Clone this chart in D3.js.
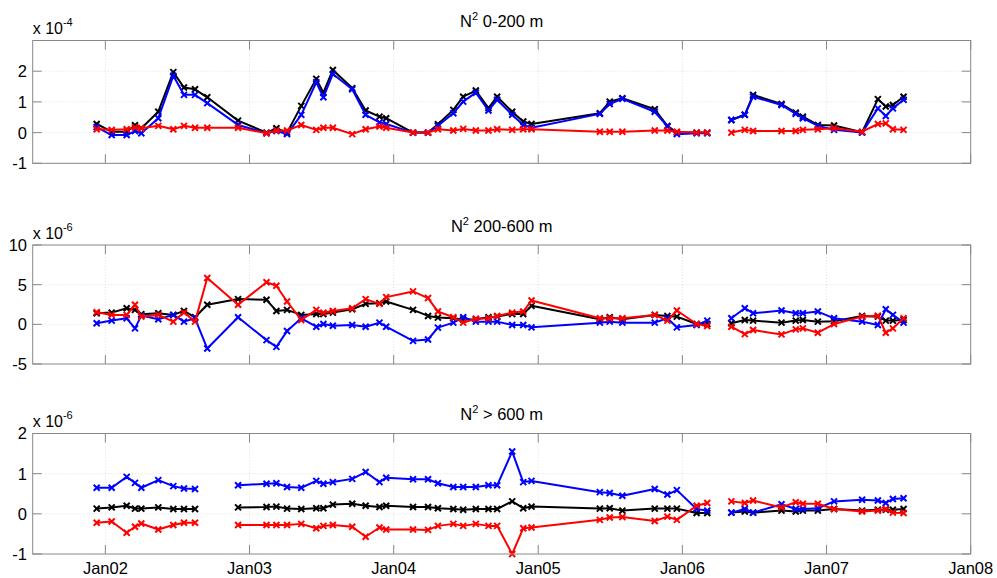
<!DOCTYPE html>
<html><head><meta charset="utf-8">
<script src="https://cdn.jsdelivr.net/npm/d3@7"></script>
<style>body{margin:0;background:#fff} svg text{font-family:"Liberation Sans",Arial,sans-serif;fill:#000}</style>
</head><body><svg id="c" width="997" height="578"></svg>
<script>
// ---------- DATA ----------
const dates = ["2001-12-10","2002-01-17","2002-02-24","2002-03-17","2002-04-02","2002-05-15","2002-06-22","2002-07-19","2002-08-16","2002-09-16",
"2002-12-03","2003-02-13","2003-03-10","2003-04-06","2003-05-12","2003-06-19","2003-07-07","2003-07-31","2003-09-18","2003-10-22",
"2003-11-26","2003-12-13","2004-02-19","2004-03-28","2004-04-22","2004-05-31","2004-06-25","2004-07-27","2004-08-28","2004-09-19",
"2004-10-27","2004-11-24","2004-12-15","2005-06-06","2005-07-01","2005-08-02","2005-10-23","2005-11-24","2005-12-18","2006-02-06",
"2006-03-05",null,"2006-05-05","2006-06-08","2006-06-29","2006-09-09","2006-10-15","2006-11-02","2006-12-10","2007-01-20",
"2007-04-01","2007-05-11","2007-05-31","2007-06-18","2007-07-15"];

// Panel 1: N^2 0-200 m (x 1e-4)
const p1Black = [0.28,0.03,0.03,0.24,0.14,0.68,1.97,1.47,1.41,1.15,0.39,0.0,0.14,0.0,0.87,1.75,1.3,2.04,1.45,0.72,0.52,0.47,0.0,0.0,0.27,0.74,1.17,1.37,0.8,1.17,0.68,0.36,0.28,0.63,1.01,1.12,0.76,0.22,0.0,0.0,0.0,null,0.41,0.58,1.23,0.93,0.65,0.52,0.25,0.23,0.01,1.09,0.85,0.9,1.17];
const p1Blue  = [0.18,-0.08,-0.08,0.05,-0.02,0.47,1.85,1.23,1.23,0.96,0.25,-0.02,0.05,-0.05,0.58,1.64,1.15,1.91,1.41,0.58,0.33,0.28,0.0,0.0,0.22,0.63,1.01,1.3,0.72,1.07,0.58,0.25,0.16,0.61,0.93,1.1,0.68,0.2,-0.05,-0.02,-0.02,null,0.41,0.58,1.17,0.9,0.61,0.47,0.22,0.09,0.0,0.79,0.54,0.79,1.07];
const p1Red   = [0.11,0.09,0.11,0.17,0.14,0.22,0.11,0.22,0.16,0.16,0.16,-0.02,0.07,0.07,0.25,0.09,0.16,0.16,-0.05,0.11,0.2,0.16,0.0,0.0,0.11,0.07,0.12,0.07,0.07,0.11,0.09,0.11,0.11,0.03,0.03,0.03,0.07,0.07,0.03,0.0,0.0,null,0.0,0.09,0.05,0.05,0.05,0.09,0.11,0.14,0.03,0.28,0.3,0.11,0.09];

// Panel 2: N^2 200-600 m (x 1e-6)
const p2Black = [1.4,1.48,2.03,1.82,1.27,1.4,1.19,1.69,0.89,2.46,3.18,3.09,1.69,1.82,1.19,1.31,1.31,1.48,1.9,2.58,2.67,2.88,1.82,1.06,0.85,0.76,0.6,0.64,0.89,0.97,1.31,1.31,2.33,0.64,0.89,0.64,1.19,1.06,0.97,0.04,0.04,null,0.13,0.55,0.47,0.21,0.47,0.55,0.34,0.4,1.06,0.97,0.47,0.47,0.55];
const p2Blue  = [0.13,0.47,0.76,-0.51,1.1,0.64,1.19,0.34,0.76,-3.05,0.89,-1.99,-2.84,-0.85,0.76,-0.3,0.04,-0.17,-0.08,-0.3,0.21,-0.3,-2.08,-1.91,-0.42,0.21,0.9,0.34,0.34,0.34,-0.08,-0.08,-0.38,0.21,0.34,0.21,0.21,0.76,-0.38,-0.08,0.47,null,0.76,2.03,1.4,1.74,1.4,1.4,1.61,0.76,0.34,-0.08,1.91,1.19,0.21];
const p2Red   = [1.53,1.19,1.19,2.46,0.97,1.19,0.34,1.48,0.34,5.85,2.46,5.3,4.87,2.88,0.55,1.82,1.48,1.69,2.03,3.18,2.58,3.43,4.15,3.31,1.61,0.89,0.21,0.7,0.76,1.06,1.48,1.61,3.0,0.76,0.76,0.76,1.19,0.47,1.74,0.04,-0.21,null,-0.3,-1.23,-0.72,-1.27,-0.64,-0.51,-1.06,0.04,0.97,1.1,-1.06,-0.51,0.76];

// Panel 3: N^2 > 600 m (x 1e-6)
const p3Black = [0.13,0.16,0.2,0.13,0.13,0.16,0.12,0.12,0.12,null,0.16,0.17,0.18,0.13,0.12,0.14,0.14,0.23,0.25,0.2,0.17,0.2,0.17,0.17,0.14,0.12,0.1,0.12,0.12,0.12,0.31,0.14,0.18,0.13,0.14,0.08,0.13,0.13,0.13,0.02,0.02,null,0.03,0.06,0.03,0.08,0.06,0.08,0.08,0.12,0.08,0.1,0.1,0.1,0.12];
const p3Blue  = [0.65,0.65,0.92,0.77,0.65,0.84,0.69,0.63,0.62,null,0.71,0.75,0.76,0.67,0.65,0.82,0.75,0.79,0.87,1.04,0.79,0.9,0.86,0.86,0.76,0.67,0.67,0.67,0.71,0.71,1.55,0.79,0.82,0.54,0.52,0.45,0.62,0.48,0.59,0.12,0.08,null,0.03,0.12,0.03,0.24,0.12,0.12,0.14,0.31,0.35,0.33,0.27,0.37,0.39];
const p3Red   = [-0.22,-0.19,-0.47,-0.32,-0.24,-0.39,-0.28,-0.22,-0.22,null,-0.28,-0.28,-0.28,-0.28,-0.25,-0.36,-0.3,-0.28,-0.32,-0.57,-0.34,-0.39,-0.39,-0.4,-0.3,-0.25,-0.3,-0.25,-0.3,-0.3,-1.0,-0.36,-0.34,-0.15,-0.09,-0.08,-0.18,-0.07,-0.15,0.2,0.27,null,0.31,0.27,0.33,0.16,0.29,0.25,0.25,0.12,0.06,0.08,0.12,0.03,0.02];

const panelTitles = ["0-200 m","200-600 m","> 600 m"];
const panelExponents = ["-4","-6","-6"];
const panelYDomains = [[-1,3],[-5,10],[-1,2]];
const panelYTicks = [[-1,0,1,2],[-5,0,5,10],[-1,0,1,2]];
const xTickLabels = ["Jan02","Jan03","Jan04","Jan05","Jan06","Jan07","Jan08"];
const xTickDates = ["2002-01-01","2003-01-01","2004-01-01","2005-01-01","2006-01-01","2007-01-01","2008-01-01"];
const xDomain = ["2001-07-01","2008-01-01"];
const seriesColors = ["#000000","#0000ff","#ff0000"];

// ---------- LAYOUT ----------
const svg = d3.select("#c");
const parse = d3.timeParse("%Y-%m-%d");
const left = 32.7, right = 970.7;
const panelBoxes = [[40.5,163.3],[245,364],[433.5,554]];
const x = d3.scaleTime().domain(xDomain.map(parse)).range([left, right]);
const tickLen = 9;
const axisCol = "#888";
const fs = 16.5, fsSup = 11;

const allSeries = [[p1Black,p1Blue,p1Red],[p2Black,p2Blue,p2Red],[p3Black,p3Blue,p3Red]];
const tickDates = xTickDates.map(parse);

panelBoxes.forEach((box, pi) => {
  const [top, bottom] = box;
  const y = d3.scaleLinear().domain(panelYDomains[pi]).range([bottom, top]);
  const g = svg.append("g");

  // grid
  tickDates.forEach(d => {
    const xx = x(d);
    if (xx > left + 1 && xx < right - 1)
      g.append("line").attr("x1", xx).attr("x2", xx).attr("y1", top).attr("y2", bottom)
        .attr("stroke", "#d8d8d8").attr("stroke-width", 0.8).attr("stroke-dasharray", "1,2");
  });
  panelYTicks[pi].forEach(v => {
    const yy = y(v);
    if (yy > top + 1 && yy < bottom - 1)
      g.append("line").attr("x1", left).attr("x2", right).attr("y1", yy).attr("y2", yy)
        .attr("stroke", "#d8d8d8").attr("stroke-width", 0.8).attr("stroke-dasharray", "1,2");
  });

  // series
  const line = d3.line()
    .defined((d, i) => d != null && dates[i] != null)
    .x((d, i) => x(parse(dates[i])))
    .y(d => y(d));
  allSeries[pi].forEach((vals, si) => {
    const col = seriesColors[si];
    g.append("path").datum(vals).attr("d", line)
      .attr("fill", "none").attr("stroke", col).attr("stroke-width", 2).attr("stroke-linejoin", "round");
    const pts = vals.map((v, i) => ({v, d: dates[i]})).filter(p => p.v != null && p.d != null);
    const s = 3;
    g.selectAll(null).data(pts).enter().append("path")
      .attr("d", p => {
        const cx = x(parse(p.d)), cy = y(p.v);
        return `M${cx-s},${cy-s}L${cx+s},${cy+s}M${cx-s},${cy+s}L${cx+s},${cy-s}`;
      })
      .attr("stroke", col).attr("stroke-width", 2).attr("fill", "none");
  });

  // box
  g.append("rect").attr("x", left).attr("y", top).attr("width", right - left).attr("height", bottom - top)
    .attr("fill", "none").attr("stroke", axisCol).attr("stroke-width", 1);

  // x ticks (top and bottom, inward)
  tickDates.forEach(d => {
    const xx = x(d);
    g.append("line").attr("x1", xx).attr("x2", xx).attr("y1", bottom).attr("y2", bottom - tickLen).attr("stroke", axisCol);
    g.append("line").attr("x1", xx).attr("x2", xx).attr("y1", top).attr("y2", top + tickLen).attr("stroke", axisCol);
  });
  // y ticks (left and right, inward) and labels
  panelYTicks[pi].forEach(v => {
    const yy = y(v);
    g.append("line").attr("x1", left).attr("x2", left + tickLen).attr("y1", yy).attr("y2", yy).attr("stroke", axisCol);
    g.append("line").attr("x1", right).attr("x2", right - tickLen).attr("y1", yy).attr("y2", yy).attr("stroke", axisCol);
    g.append("text").attr("x", 27).attr("y", yy).attr("dy", "0.36em").attr("text-anchor", "end")
      .attr("font-size", fs).text(v);
  });

  // exponent label
  const ex = g.append("text").attr("x", left).attr("y", top - 6.5).attr("font-size", fs - 0.5);
  ex.append("tspan").text("x 10");
  ex.append("tspan").attr("dy", -8).attr("font-size", fsSup).text(panelExponents[pi]);

  // title
  const t = g.append("text").attr("x", (left + right) / 2).attr("y", top - 13.5)
    .attr("text-anchor", "middle").attr("font-size", fs);
  t.append("tspan").text("N");
  t.append("tspan").attr("dy", -7).attr("font-size", fsSup).text("2");
  t.append("tspan").attr("dy", 7).text(" " + panelTitles[pi]);

  // x tick labels only on the bottom panel
  if (pi === panelBoxes.length - 1) {
    tickDates.forEach((d, i) => {
      g.append("text").attr("x", x(d)).attr("y", bottom + 20).attr("text-anchor", "middle")
        .attr("font-size", fs).text(xTickLabels[i]);
    });
  }
});
</script></body></html>
